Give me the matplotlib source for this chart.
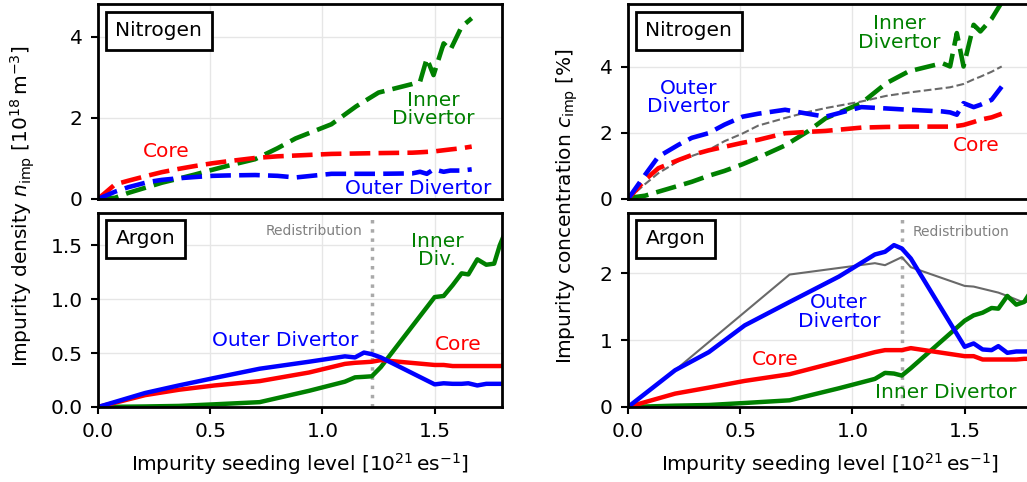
import numpy as np
import matplotlib
matplotlib.use("Agg")
import matplotlib.pyplot as plt

# seeding level for the nitrogen scan [1e21 e/s]
x_n = [0, 0.076, 0.135, 0.225, 0.284, 0.358, 0.43, 0.51, 0.58, 0.70, 0.80, 0.88,
       1.04, 1.15, 1.25, 1.40, 1.435, 1.465, 1.495, 1.54, 1.57, 1.62, 1.665]

# nitrogen density [1e18 m^-3]
n_core_N = [0, 0.36, 0.45, 0.58, 0.66, 0.74, 0.81, 0.88, 0.93, 1.01, 1.05, 1.07,
            1.11, 1.12, 1.13, 1.14, 1.15, 1.16, 1.17, 1.20, 1.22, 1.25, 1.29]
n_outer_N = [0, 0.18, 0.29, 0.42, 0.47, 0.51, 0.54, 0.57, 0.58, 0.59, 0.57, 0.53,
             0.62, 0.62, 0.62, 0.63, 0.67, 0.62, 0.73, 0.67, 0.70, 0.70, 0.73]
n_inner_N = [0, 0.03, 0.15, 0.30, 0.40, 0.50, 0.60, 0.72, 0.82, 0.98, 1.25, 1.49,
             1.84, 2.28, 2.62, 2.83, 2.89, 3.46, 3.05, 3.83, 3.67, 4.24, 4.45]

# nitrogen concentration [%]
c_core_N = [0, 0.58, 0.93, 1.18, 1.33, 1.47, 1.58, 1.70, 1.79, 1.99, 2.03, 2.06,
            2.16, 2.18, 2.19, 2.19, 2.19, 2.21, 2.24, 2.33, 2.40, 2.47, 2.58]
c_outer_N = [0, 0.73, 1.28, 1.64, 1.85, 1.99, 2.25, 2.49, 2.58, 2.70, 2.58, 2.49,
             2.78, 2.74, 2.70, 2.65, 2.62, 2.55, 2.90, 2.78, 2.85, 3.00, 3.40]
c_inner_N = [0.03, 0.10, 0.22, 0.40, 0.52, 0.70, 0.85, 1.05, 1.25, 1.62, 2.04, 2.44,
             2.90, 3.50, 3.86, 4.11, 4.01, 5.02, 4.01, 5.27, 5.07, 5.45, 5.95]
c_avg_N = [0, 0.45, 0.78, 1.15, 1.30, 1.48, 1.75, 1.98, 2.22, 2.45, 2.63, 2.75,
           2.95, 3.12, 3.22, 3.35, 3.38, 3.43, 3.48, 3.62, 3.70, 3.85, 4.01]

# seeding level for the argon scan
x_ar = [0, 0.21, 0.36, 0.52, 0.72, 0.94, 1.10, 1.145, 1.185, 1.22, 1.26, 1.50,
        1.54, 1.58, 1.62, 1.65, 1.69, 1.73, 1.765, 1.79, 1.83]

# argon density [1e18 m^-3]
n_core_Ar = [0, 0.11, 0.16, 0.20, 0.24, 0.32, 0.40, 0.41, 0.415, 0.42, 0.435, 0.39,
             0.39, 0.38, 0.38, 0.38, 0.38, 0.38, 0.38, 0.38, 0.385]
n_outer_Ar = [0, 0.13, 0.20, 0.27, 0.355, 0.42, 0.47, 0.46, 0.505, 0.49, 0.46, 0.21,
              0.22, 0.215, 0.215, 0.22, 0.20, 0.215, 0.215, 0.215, 0.215]
n_inner_Ar = [0, 0.005, 0.01, 0.025, 0.045, 0.15, 0.235, 0.275, 0.28, 0.285, 0.37, 1.02,
              1.03, 1.13, 1.24, 1.23, 1.37, 1.32, 1.33, 1.50, 1.70]

# argon concentration [%]
c_core_Ar = [0, 0.20, 0.29, 0.39, 0.49, 0.68, 0.82, 0.85, 0.85, 0.85, 0.88, 0.76,
             0.76, 0.71, 0.71, 0.71, 0.71, 0.71, 0.72, 0.72, 0.72]
c_outer_Ar = [0, 0.55, 0.82, 1.22, 1.57, 1.95, 2.28, 2.32, 2.42, 2.37, 2.22, 0.90,
              0.95, 0.86, 0.85, 0.91, 0.81, 0.83, 0.83, 0.83, 0.83]
c_inner_Ar = [0, 0.02, 0.03, 0.06, 0.10, 0.28, 0.42, 0.51, 0.50, 0.47, 0.58, 1.29,
              1.37, 1.41, 1.48, 1.47, 1.66, 1.53, 1.57, 1.70, 1.85]
x_avg_Ar = [0, 0.21, 0.72, 1.10, 1.145, 1.22, 1.26, 1.50, 1.54, 1.65, 1.69, 1.75, 1.83]
c_avg_Ar = [0, 0.55, 1.98, 2.15, 2.12, 2.24, 2.09, 1.81, 1.80, 1.71, 1.66, 1.58, 1.55]

x_redist = 1.222

plt.rcParams['font.family'] = 'DejaVu Sans'
plt.rcParams['font.size'] = 14.5

fig = plt.figure(figsize=(10.27, 4.82), dpi=100)
W, H = 1027.0, 482.0
def box(l, t, r, b):
    return [l / W, 1 - b / H, (r - l) / W, (b - t) / H]

ax_nd = fig.add_axes(box(98, 4, 502, 199))
ax_ad = fig.add_axes(box(98, 213, 502, 407))
ax_nc = fig.add_axes(box(628, 4, 1032, 199))
ax_ac = fig.add_axes(box(628, 213, 1032, 407))

dash = dict(lw=3.3, dashes=(4.5, 1.8))
solid = dict(lw=3.2)

# nitrogen density
ax_nd.plot(x_n, n_inner_N, color='green', **dash)
ax_nd.plot(x_n, n_core_N, color='red', **dash)
ax_nd.plot(x_n, n_outer_N, color='blue', **dash)
ax_nd.set_ylim(0, 4.8)
ax_nd.set_yticks([0, 2, 4])
ax_nd.text(0.306, 1.165, 'Core', color='red', ha='center', va='center')
ax_nd.text(1.494, 2.21, 'Inner\nDivertor', color='green', ha='center', va='center',
           multialignment='center', linespacing=0.95)
ax_nd.text(1.427, 0.26, 'Outer Divertor', color='blue', ha='center', va='center')

# nitrogen concentration
ax_nc.plot(x_n, c_avg_N, color='dimgray', lw=1.5, ls='--')
ax_nc.plot(x_n, c_inner_N, color='green', **dash)
ax_nc.plot(x_n, c_core_N, color='red', **dash)
ax_nc.plot(x_n, c_outer_N, color='blue', **dash)
ax_nc.set_ylim(0, 5.9)
ax_nc.set_yticks([0, 2, 4])
ax_nc.text(0.269, 3.08, 'Outer\nDivertor', color='blue', ha='center', va='center',
           multialignment='center', linespacing=0.95)
ax_nc.text(1.207, 5.02, 'Inner\nDivertor', color='green', ha='center', va='center',
           multialignment='center', linespacing=0.95)
ax_nc.text(1.552, 1.62, 'Core', color='red', ha='center', va='center')

# argon density
ax_ad.axvline(x_redist, color='darkgray', lw=2.5, ls=':')
ax_ad.plot(x_ar, n_inner_Ar, color='green', **solid)
ax_ad.plot(x_ar, n_core_Ar, color='red', **solid)
ax_ad.plot(x_ar, n_outer_Ar, color='blue', **solid)
ax_ad.set_ylim(0, 1.8)
ax_ad.set_yticks([0, 0.5, 1.0, 1.5])
ax_ad.text(1.18, 1.636, 'Redistribution', color='gray', fontsize=10,
           ha='right', va='center')
ax_ad.text(0.833, 0.62, 'Outer Divertor', color='blue', ha='center', va='center')
ax_ad.text(1.603, 0.58, 'Core', color='red', ha='center', va='center')
ax_ad.text(1.51, 1.45, 'Inner\nDiv.', color='green', ha='center', va='center',
           multialignment='center', linespacing=0.95)

# argon concentration
ax_ac.axvline(x_redist, color='darkgray', lw=2.5, ls=':')
ax_ac.plot(x_avg_Ar, c_avg_Ar, color='dimgray', lw=1.5)
ax_ac.plot(x_ar, c_inner_Ar, color='green', **solid)
ax_ac.plot(x_ar, c_core_Ar, color='red', **solid)
ax_ac.plot(x_ar, c_outer_Ar, color='blue', **solid)
ax_ac.set_ylim(0, 2.9)
ax_ac.set_yticks([0, 1, 2])
ax_ac.text(1.266, 2.62, 'Redistribution', color='gray', fontsize=10,
           ha='left', va='center')
ax_ac.text(0.939, 1.42, 'Outer\nDivertor', color='blue', ha='center', va='center',
           multialignment='center', linespacing=0.95)
ax_ac.text(0.656, 0.71, 'Core', color='red', ha='center', va='center')
ax_ac.text(1.415, 0.21, 'Inner Divertor', color='green', ha='center', va='center')

for ax, name, ty in [(ax_nd, 'Nitrogen', 0.862), (ax_nc, 'Nitrogen', 0.862),
                     (ax_ad, 'Argon', 0.866), (ax_ac, 'Argon', 0.866)]:
    ax.set_xlim(0, 1.8)
    ax.set_xticks([0, 0.5, 1.0, 1.5])
    ax.grid(True, color='#e6e6e6', lw=1)
    ax.set_axisbelow(True)
    for s in ax.spines.values():
        s.set_linewidth(2)
    ax.tick_params(direction='out', length=5, width=1.5, pad=6)
    ax.text(0.043, ty, name, transform=ax.transAxes, ha='left', va='center',
            bbox=dict(boxstyle='square,pad=0.48', fc='white', ec='black', lw=2))

for ax in (ax_nd, ax_nc):
    ax.tick_params(axis='x', bottom=False, labelbottom=False)

for ax in (ax_ad, ax_ac):
    ax.set_xticklabels(['0.0', '0.5', '1.0', '1.5'])
    ax.set_xlabel(r'Impurity seeding level [$10^{21}\,\mathrm{es}^{-1}$]', labelpad=7)

fig.text(23 / W, 1 - 206 / H, r'Impurity density $n_\mathrm{imp}$ [$10^{18}\,\mathrm{m}^{-3}$]',
         rotation=90, ha='center', va='center')
fig.text(567 / W, 1 - 206 / H, r'Impurity concentration $c_\mathrm{imp}$ [%]',
         rotation=90, ha='center', va='center')

fig.savefig('out.png', dpi=100)
